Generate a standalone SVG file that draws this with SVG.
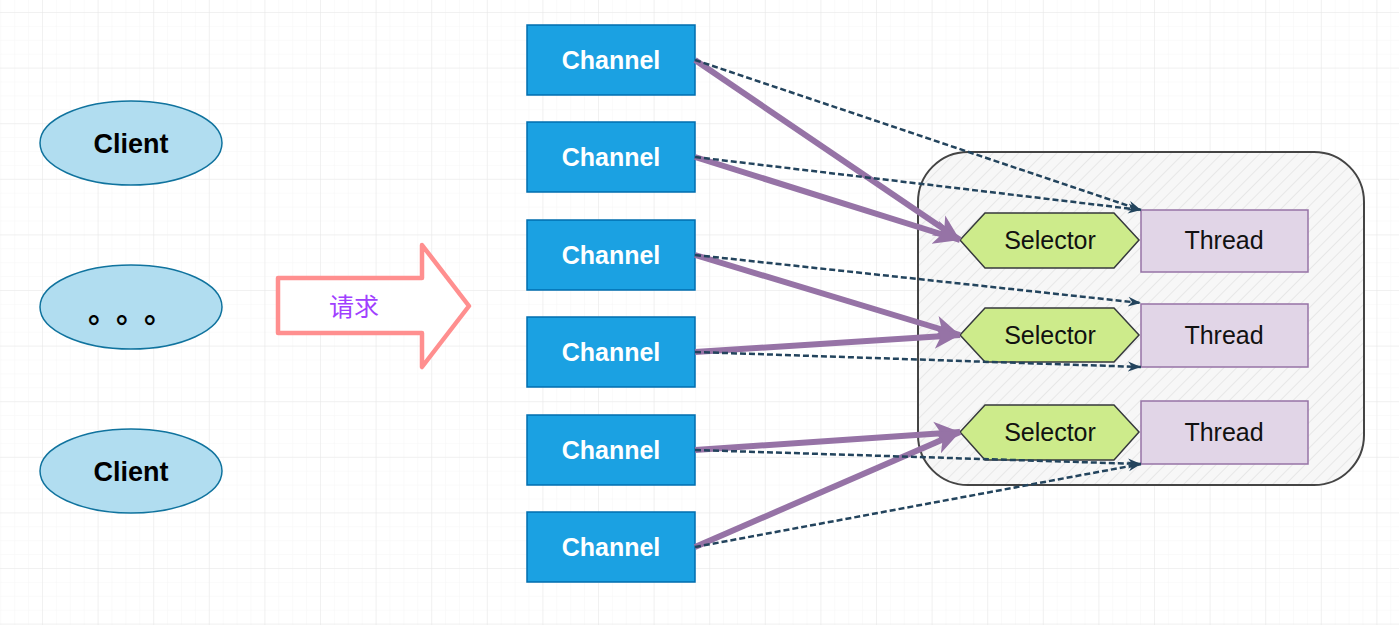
<svg xmlns="http://www.w3.org/2000/svg" width="1399" height="625" viewBox="0 0 1399 625">
<defs>
<style>
.client{fill:#b1ddf0;stroke:#10739e;stroke-width:1.5}
.ctext{font-family:"Liberation Sans",Arial,sans-serif;font-weight:bold;font-size:27px;fill:#000;text-anchor:middle}
.chan{fill:#1ba1e2;stroke:#006eaf;stroke-width:1.5}
.chtext{font-family:"Liberation Sans",Arial,sans-serif;font-weight:bold;font-size:25px;fill:#fff;text-anchor:middle}
.sel{fill:#cdeb8b;stroke:#36393d;stroke-width:1.5}
.thr{fill:#e1d5e7;stroke:#9673a6;stroke-width:1.5}
.ntext{font-family:"Liberation Sans",Arial,sans-serif;font-size:25px;fill:#111;text-anchor:middle}
.solid{fill:none;stroke:#9673a6;stroke-width:6}
.dash{fill:none;stroke:#23445d;stroke-width:2.5;stroke-dasharray:6 3}
</style>
<pattern id="minor" width="13.9" height="13.9" patternUnits="userSpaceOnUse" x="42" y="12">
<path d="M0 0H13.9M0 0V13.9" fill="none" stroke="#f6f6f6" stroke-width="1"/>
</pattern>
<pattern id="major" width="55.6" height="55.6" patternUnits="userSpaceOnUse" x="42" y="12">
<path d="M0 0H55.6M0 0V55.6" fill="none" stroke="#e8e8e8" stroke-width="1"/>
</pattern>
<pattern id="hatch" width="9" height="9" patternUnits="userSpaceOnUse" patternTransform="rotate(45)">
<rect width="9" height="9" fill="#f7f7f7"/>
<path d="M0 0V9" stroke="#dcdcdc" stroke-width="1.2"/>
</pattern>
<marker id="pa" markerUnits="userSpaceOnUse" markerWidth="28" markerHeight="28" viewBox="0 0 28 28" refX="26" refY="14" orient="auto">
<path d="M0 2L26 14L0 26L7 14Z" fill="#9673a6"/>
</marker>
<marker id="da" markerUnits="userSpaceOnUse" markerWidth="14" markerHeight="12" viewBox="0 0 14 12" refX="13" refY="6" orient="auto">
<path d="M0 1L13 6L0 11L4 6Z" fill="#23445d"/>
</marker>
</defs>
<rect width="1399" height="625" fill="#fff"/>
<rect width="1399" height="625" fill="url(#minor)"/>
<rect width="1399" height="625" fill="url(#major)"/>

<g id="container">
<rect x="918" y="152" width="446" height="333" rx="50" ry="50" fill="url(#hatch)" stroke="#444" stroke-width="2"/>
</g>

<g id="client1"><ellipse class="client" cx="131" cy="143" rx="91" ry="42"/><text class="ctext" x="131" y="153">Client</text></g>
<g id="client2"><ellipse class="client" cx="131" cy="307" rx="91" ry="42"/><text x="88 116 144" y="322" font-family="Noto Sans CJK SC,sans-serif" font-size="30" font-weight="bold" fill="#000">。。。</text></g>
<g id="client3"><ellipse class="client" cx="131" cy="471" rx="91" ry="42"/><text class="ctext" x="131" y="481">Client</text></g>

<g id="request">
<path d="M278 278H422V245L469 306L422 367V333H278Z" fill="#fff" stroke="#ff8f8f" stroke-width="4.5" stroke-linejoin="round"/>
<text x="354" y="316" font-family="Noto Sans CJK SC,sans-serif" font-size="25" fill="#a040ff" text-anchor="middle">请求</text>
</g>

<g id="channel1"><rect class="chan" x="527" y="25" width="168" height="70"/><text class="chtext" x="611" y="69">Channel</text></g>
<g id="channel2"><rect class="chan" x="527" y="122" width="168" height="70"/><text class="chtext" x="611" y="166">Channel</text></g>
<g id="channel3"><rect class="chan" x="527" y="220" width="168" height="70"/><text class="chtext" x="611" y="264">Channel</text></g>
<g id="channel4"><rect class="chan" x="527" y="317" width="168" height="70"/><text class="chtext" x="611" y="361">Channel</text></g>
<g id="channel5"><rect class="chan" x="527" y="415" width="168" height="70"/><text class="chtext" x="611" y="459">Channel</text></g>
<g id="channel6"><rect class="chan" x="527" y="512" width="168" height="70"/><text class="chtext" x="611" y="556">Channel</text></g>

<g id="selector1"><path class="sel" d="M960 240L985 213H1114L1139 240L1114 268H985Z"/><text class="ntext" x="1050" y="249">Selector</text></g>
<g id="selector2"><path class="sel" d="M960 335L985 308H1114L1139 335L1114 362H985Z"/><text class="ntext" x="1050" y="344">Selector</text></g>
<g id="selector3"><path class="sel" d="M960 432L985 405H1114L1139 432L1114 460H985Z"/><text class="ntext" x="1050" y="441">Selector</text></g>

<g id="thread1"><rect class="thr" x="1141" y="210" width="167" height="62"/><text class="ntext" x="1224" y="249">Thread</text></g>
<g id="thread2"><rect class="thr" x="1141" y="304" width="167" height="63"/><text class="ntext" x="1224" y="344">Thread</text></g>
<g id="thread3"><rect class="thr" x="1141" y="401" width="167" height="63"/><text class="ntext" x="1224" y="441">Thread</text></g>

<g id="connectors">
<line class="solid" x1="695" y1="60" x2="960" y2="240" marker-end="url(#pa)"/>
<line class="solid" x1="695" y1="157" x2="960" y2="240" marker-end="url(#pa)"/>
<line class="solid" x1="695" y1="255" x2="960" y2="335" marker-end="url(#pa)"/>
<line class="solid" x1="695" y1="352" x2="960" y2="335" marker-end="url(#pa)"/>
<line class="solid" x1="695" y1="450" x2="960" y2="432" marker-end="url(#pa)"/>
<line class="solid" x1="695" y1="547" x2="960" y2="432" marker-end="url(#pa)"/>
<line class="dash" x1="695" y1="60" x2="1141" y2="210" marker-end="url(#da)"/>
<line class="dash" x1="695" y1="157" x2="1141" y2="210" marker-end="url(#da)"/>
<line class="dash" x1="695" y1="255" x2="1141" y2="303" marker-end="url(#da)"/>
<line class="dash" x1="695" y1="352" x2="1141" y2="367" marker-end="url(#da)"/>
<line class="dash" x1="695" y1="450" x2="1141" y2="464" marker-end="url(#da)"/>
<line class="dash" x1="695" y1="547" x2="1141" y2="464" marker-end="url(#da)"/>
</g>
</svg>
